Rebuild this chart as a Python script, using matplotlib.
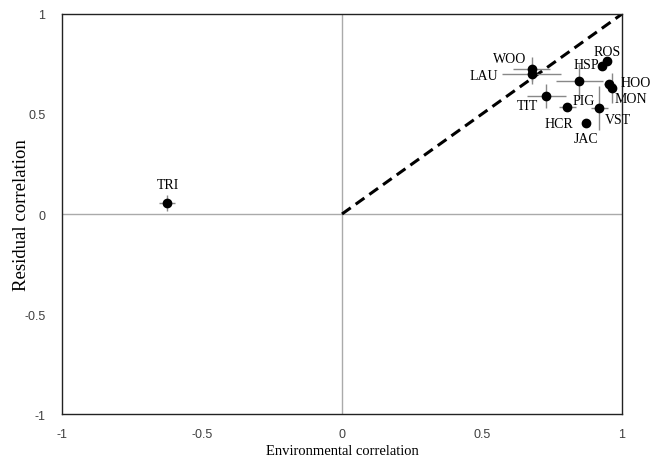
import matplotlib.pyplot as plt

plt.rcParams['font.family'] = ['Liberation Serif', 'DejaVu Serif']

# Site codes and correlations
sites = ['TRI', 'WOO', 'LAU', 'ROS', 'HSP', 'PIG', 'HOO', 'MON', 'TIT', 'HCR', 'VST', 'JAC']
env = [-0.625, 0.677, 0.677, 0.948, 0.927, 0.848, 0.955, 0.966, 0.729, 0.805, 0.919, 0.871]
res = [0.055, 0.727, 0.700, 0.763, 0.742, 0.667, 0.650, 0.628, 0.592, 0.537, 0.530, 0.455]
env_err = [0.03, 0.065, 0.105, 0.00, 0.00, 0.085, 0.02, 0.00, 0.07, 0.03, 0.03, 0.00]
res_err = [0.04, 0.06, 0.05, 0.00, 0.00, 0.085, 0.02, 0.075, 0.06, 0.02, 0.11, 0.00]

# label offsets in points (dx, dy) and alignment
label_pos = {
    'TRI': (1, 13, 'center'),
    'WOO': (-4, 7.5, 'right'),
    'LAU': (-24, -1, 'right'),
    'ROS': (0, 7, 'center'),
    'HSP': (-2, 1, 'right'),
    'PIG': (3, -14, 'center'),
    'HOO': (8, 1, 'left'),
    'MON': (1.5, -7, 'left'),
    'TIT': (-6, -7, 'right'),
    'HCR': (4, -12, 'right'),
    'VST': (4, -8, 'left'),
    'JAC': (0, -11, 'center'),
}

fig = plt.figure(figsize=(6.5, 4.6), dpi=100)
ax = fig.add_axes([0.0954, 0.0978, 0.8615, 0.8696])

ax.axhline(0, color='#aaaaaa', lw=1, zorder=1)
ax.axvline(0, color='#aaaaaa', lw=1, zorder=1)
ax.plot([0, 1], [0, 1], color='black', lw=2.2, dashes=(3.5, 2), zorder=2)

ax.errorbar(env, res, xerr=env_err, yerr=res_err, fmt='o', color='black',
            ecolor='#888888', elinewidth=1, capsize=0, markersize=6, zorder=3)

for s, x, y in zip(sites, env, res):
    dx, dy, ha = label_pos[s]
    ax.annotate(s, (x, y), xytext=(dx, dy), textcoords='offset points',
                ha=ha, va='center', fontsize=10, annotation_clip=False)

ax.set_xlim(-1, 1)
ax.set_ylim(-1, 1)
ax.set_xticks([-1, -0.5, 0, 0.5, 1])
ax.set_yticks([-1, -0.5, 0, 0.5, 1])
ax.set_xticklabels(['-1', '-0.5', '0', '0.5', '1'])
ax.set_yticklabels(['-1', '-0.5', '0', '0.5', '1'])
ax.tick_params(length=0, labelsize=9, labelcolor='#404040')
ax.tick_params(axis='x', pad=10)
ax.tick_params(axis='y', pad=12)
for lab in ax.get_xticklabels() + ax.get_yticklabels():
    lab.set_family('Liberation Sans')
for sp in ax.spines.values():
    sp.set_color('#222222')
    sp.set_linewidth(1)

ax.set_xlabel('Environmental correlation', fontsize=10.5, labelpad=3)
ax.set_ylabel('Residual correlation', fontsize=13.5)
ax.yaxis.set_label_coords(-0.057, 0.5)

plt.savefig('out.png', dpi=100)
